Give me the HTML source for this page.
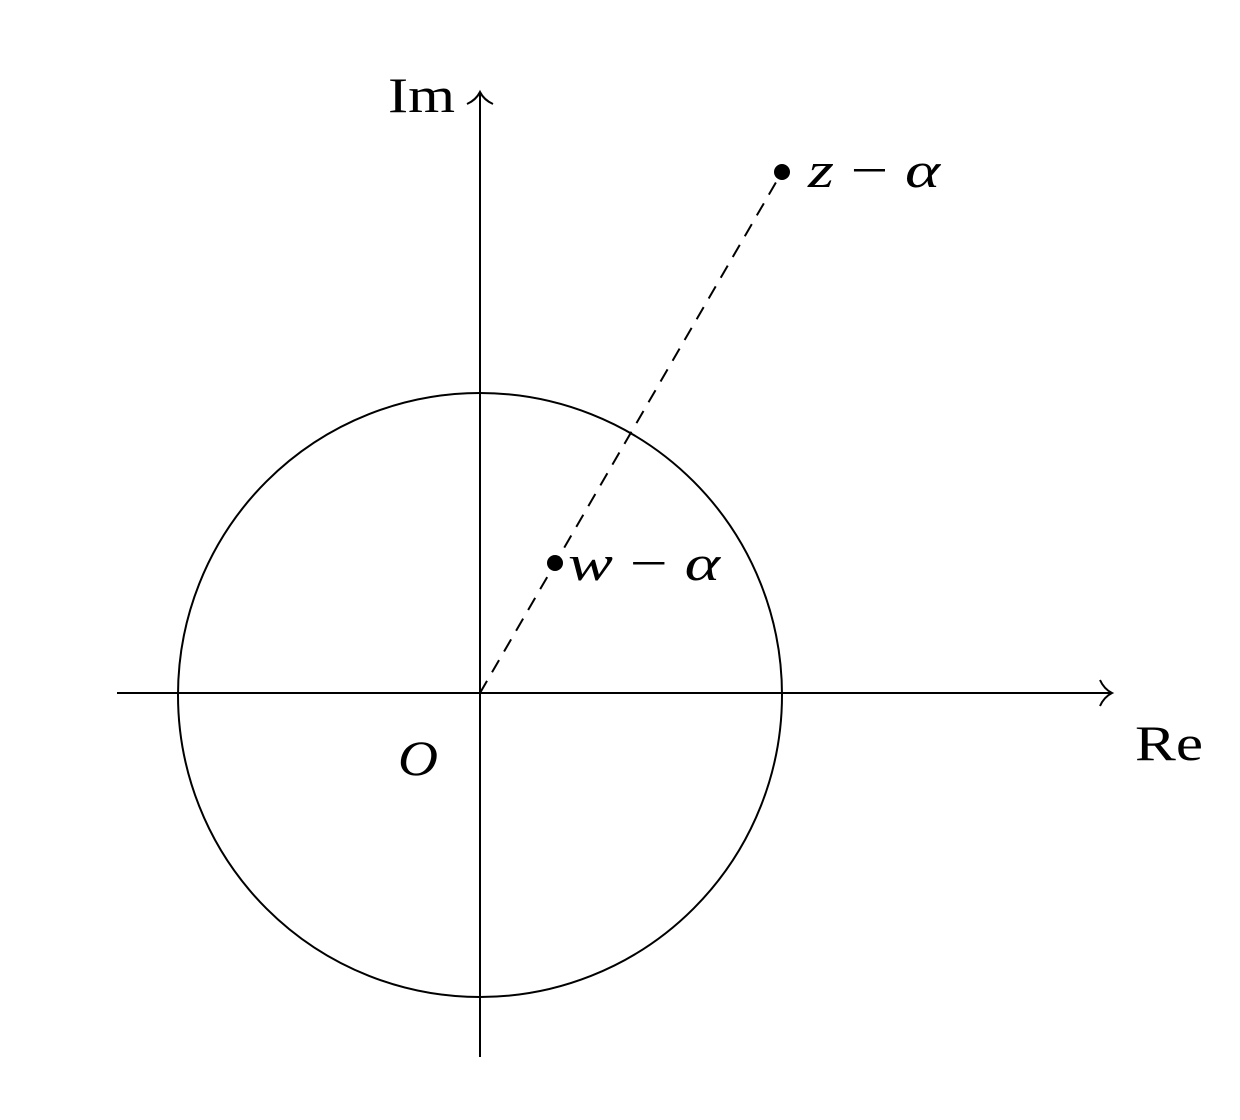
<!DOCTYPE html>
<html><head><meta charset="utf-8"><style>
html,body{margin:0;padding:0;background:#fff;}
svg{display:block;}
text{font-family:"Liberation Serif","DejaVu Serif",serif;fill:#000;}
</style></head><body>
<svg width="1240" height="1120" viewBox="0 0 1240 1120" xmlns="http://www.w3.org/2000/svg">
<circle cx="480" cy="695" r="302" fill="none" stroke="#000" stroke-width="2"/>
<line x1="117" y1="693" x2="1111" y2="693" stroke="#000" stroke-width="2"/>
<path d="M1100 680 Q1104 689 1112 693 Q1104 697 1100 706" fill="none" stroke="#000" stroke-width="2"/>
<line x1="480" y1="1057" x2="480" y2="93" stroke="#000" stroke-width="2"/>
<path d="M467 104 Q476 100 480 92 Q484 100 493 104" fill="none" stroke="#000" stroke-width="2"/>
<line x1="480" y1="693" x2="782" y2="172" stroke="#000" stroke-width="2" stroke-dasharray="14,10"/>
<circle cx="782" cy="172" r="8" fill="#000"/>
<circle cx="555" cy="563" r="8" fill="#000"/>
<text x="388" y="112" font-size="50" textLength="67" lengthAdjust="spacingAndGlyphs">Im</text>
<text x="1135" y="760" font-size="50" textLength="68" lengthAdjust="spacingAndGlyphs">Re</text>
<text x="398" y="775" font-size="50" font-style="italic" textLength="40" lengthAdjust="spacingAndGlyphs">O</text>
<text x="808" y="187" font-size="50" textLength="132" lengthAdjust="spacingAndGlyphs"><tspan font-style="italic">z</tspan> − <tspan font-style="italic">α</tspan></text>
<text x="568" y="580" font-size="50" textLength="152" lengthAdjust="spacingAndGlyphs"><tspan font-style="italic">w</tspan> − <tspan font-style="italic">α</tspan></text>
</svg>
</body></html>
